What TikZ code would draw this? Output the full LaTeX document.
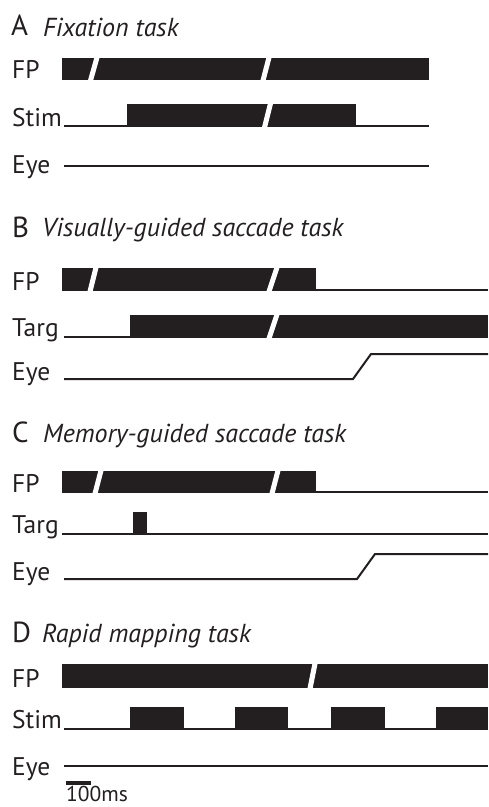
\documentclass[tikz,border=0pt]{standalone}
\usepackage{fontspec}
\setmainfont{PT Sans}
\definecolor{ink}{RGB}{35,31,32}
\newcommand\slit[4]{\fill[white] ({#1-2.6},#3) -- ({#1+2.6},#3) -- ({#2+2.6},#4) -- ({#2-2.6},#4) -- cycle;}
\begin{document}
\begin{tikzpicture}[x=1pt,y=-1pt,
  sig/.style={draw=ink,line width=2pt},
  lab/.style={anchor=base west,inner sep=0pt,font=\fontsize{25.5}{25.5}\selectfont,text=ink},
  ttl/.style={anchor=base west,inner sep=0pt,font=\fontsize{26}{26}\selectfont\itshape,text=ink},
  letr/.style={anchor=base west,inner sep=0pt,font=\fontsize{29}{29}\selectfont,text=ink}]
\useasboundingbox (0,0) rectangle (488,807);
% ---------- A ----------
\node[letr] (A) at (11,35) {A};
\node[ttl] (At) at (43,36) {Fixation task};
\node[lab] (Afp) at (12,78) {FP};
\fill[ink] (62,58) rectangle (429,80);
\slit{97}{90.5}{57.5}{80.5}
\slit{269}{263}{57.5}{80.5}
\node[lab] (Ast) at (12,126) {Stim};
\draw[sig] (64,126) -- (128,126);
\fill[ink] (127,104) rectangle (356,127);
\slit{270.5}{264.5}{103.5}{127.5}
\draw[sig] (356,126) -- (429,126);
\node[lab] (Aey) at (12,173) {Eye};
\draw[sig] (64,166) -- (429,166);
% ---------- B ----------
\node[letr] (B) at (12,237) {B};
\node[ttl] (Bt) at (42,236) {Visually-guided saccade task};
\node[lab] (Bfp) at (12,290) {FP};
\fill[ink] (62,268) rectangle (316,291);
\slit{96}{90}{267.5}{291.5}
\slit{277}{269}{267.5}{291.5}
\draw[sig] (316,290) -- (488,290);
\node[lab] (Btg) at (12,336) {Targ};
\draw[sig] (64,337) -- (131,337);
\fill[ink] (130,315) rectangle (488,338);
\slit{277}{269}{314.5}{338.5}
\node[lab] (Bey) at (12,380) {Eye};
\draw[sig] (64,379) -- (353,379) -- (371,354) -- (488,354);
% ---------- C ----------
\node[letr] (C) at (12,442) {C};
\node[ttl] (Ct) at (43,442) {Memory-guided saccade task};
\node[lab] (Cfp) at (12,492) {FP};
\fill[ink] (62,471) rectangle (316,493);
\slit{101}{95}{470.5}{493.5}
\slit{278}{272}{470.5}{493.5}
\draw[sig] (316,492) -- (488,492);
\node[lab] (Ctg) at (12,533) {Targ};
\draw[sig] (62,534) -- (488,534);
\fill[ink] (133,512) rectangle (147,535);
\node[lab] (Cey) at (12,580) {Eye};
\draw[sig] (64,579) -- (357,579) -- (375,554) -- (488,554);
% ---------- D ----------
\node[letr] (D) at (12,642) {D};
\node[ttl] (Dt) at (42,642) {Rapid mapping task};
\node[lab] (Dfp) at (12,687) {FP};
\fill[ink] (62,664) rectangle (488,688);
\slit{315}{310}{663.5}{688.5}
\node[lab] (Dst) at (12,728) {Stim};
\draw[sig] (64,729) -- (488,729);
\foreach \a/\b in {130/184,235/288,331/385,436/488}
  \fill[ink] (\a,707) rectangle (\b,730);
\node[lab] (Dey) at (12,775) {Eye};
\draw[sig] (64,766) -- (488,766);
\fill[ink] (66,781) rectangle (91,784.5);
\node[lab,font=\fontsize{21.5}{21.5}\selectfont] (scl) at (66,801) {100ms};
\end{tikzpicture}
\end{document}
